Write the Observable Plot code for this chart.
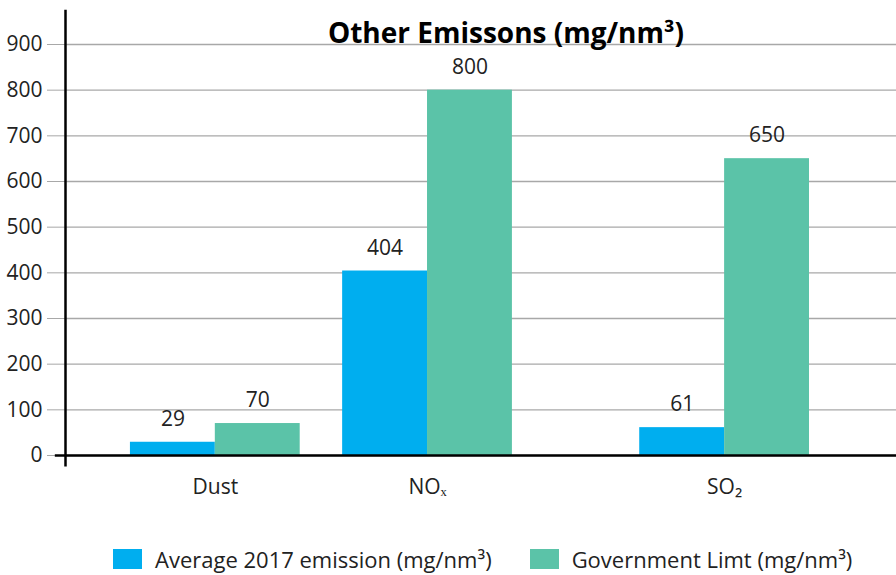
<!DOCTYPE html>
<html><head><meta charset="utf-8">
<script src="https://cdn.jsdelivr.net/npm/d3@7"></script>
<script src="https://cdn.jsdelivr.net/npm/@observablehq/plot@0.6"></script>
<style>
body{margin:0;background:#fff;font-family:"Open Sans",sans-serif;}
#legend{display:flex;flex-wrap:nowrap;align-items:center;width:896px;height:45px;padding-left:113px;box-sizing:border-box;padding-top:12px;font-size:22px;color:#222;white-space:nowrap;}
.item{display:flex;align-items:center;margin-right:38px;flex:none;white-space:nowrap;}
.sw{width:29px;height:20px;margin-right:13px;flex:none;}
</style></head><body><div id="chart"></div><div id="legend"></div><script>
const categories = ["Dust", "NOₓ", "SO₂"];
const average2017 = [29, 404, 61];
const governmentLimit = [70, 800, 650];
const yTicks = [0, 100, 200, 300, 400, 500, 600, 700, 800, 900];
const seriesNames = ["Average 2017 emission (mg/nm³)", "Government Limt (mg/nm³)"];
const chartTitle = "Other Emissons (mg/nm³)";

// layout (uneven group spacing as in the reference)
const slot = [0, 5, 12];
const halfWidth = 2;
const colors = ["#00AEEF", "#5BC3A8"];
const xDomain = [-3.53, 16.05];

const rows = [];
categories.forEach((c, i) => {
  rows.push({category: c, series: seriesNames[0], value: average2017[i], x1: slot[i] - halfWidth, x2: slot[i]});
  rows.push({category: c, series: seriesNames[1], value: governmentLimit[i], x1: slot[i], x2: slot[i] + halfWidth});
});

const plot = Plot.plot({
  width: 896, height: 530,
  marginLeft: 65, marginRight: 0, marginTop: 44, marginBottom: 75,
  x: {type: "linear", domain: xDomain},
  y: {domain: [0, 900]},
  color: {domain: seriesNames, range: colors},
  style: {fontFamily: "Open Sans", fontSize: "21px", color: "#222", background: "#fff"},
  marks: [
    Plot.gridY(yTicks, {stroke: "#a8a8a8", strokeOpacity: 1, strokeWidth: 1.3}),
    Plot.axisY({ticks: yTicks, tickSize: 18, tickPadding: 5, stroke: "#a8a8a8", fill: "#222", fontSize: 21, label: null}),
    Plot.rectY(rows, {x1: "x1", x2: "x2", y: "value", fill: "series"}),
    Plot.text(rows, {x: d => (d.x1 + d.x2) / 2, y: "value", text: d => String(d.value), dy: -23, fontSize: 21, fill: "#222"}),
    Plot.ruleY([0], {x1: -3.77, x2: xDomain[1], stroke: "#000", strokeWidth: 2.5}),
    Plot.ruleX([xDomain[0]], {y1: -25, y2: 975, stroke: "#000", strokeWidth: 2.5}),
    Plot.axisX({ticks: slot, tickFormat: d => categories[slot.indexOf(d)], tickSize: 0, tickPadding: 24, fontSize: 21, fill: "#222", label: null}),
    Plot.text([chartTitle], {frameAnchor: "top", dy: -21, dx: 25, fontSize: 28, fontWeight: "bold", fill: "#000"})
  ]
});
document.getElementById("chart").appendChild(plot);

const legend = document.getElementById("legend");
seriesNames.forEach((s, i) => {
  const it = document.createElement("div");
  it.className = "item";
  it.innerHTML = `<span class="sw" style="background:${colors[i]}"></span><span>${s}</span>`;
  legend.appendChild(it);
});
</script></body></html>
